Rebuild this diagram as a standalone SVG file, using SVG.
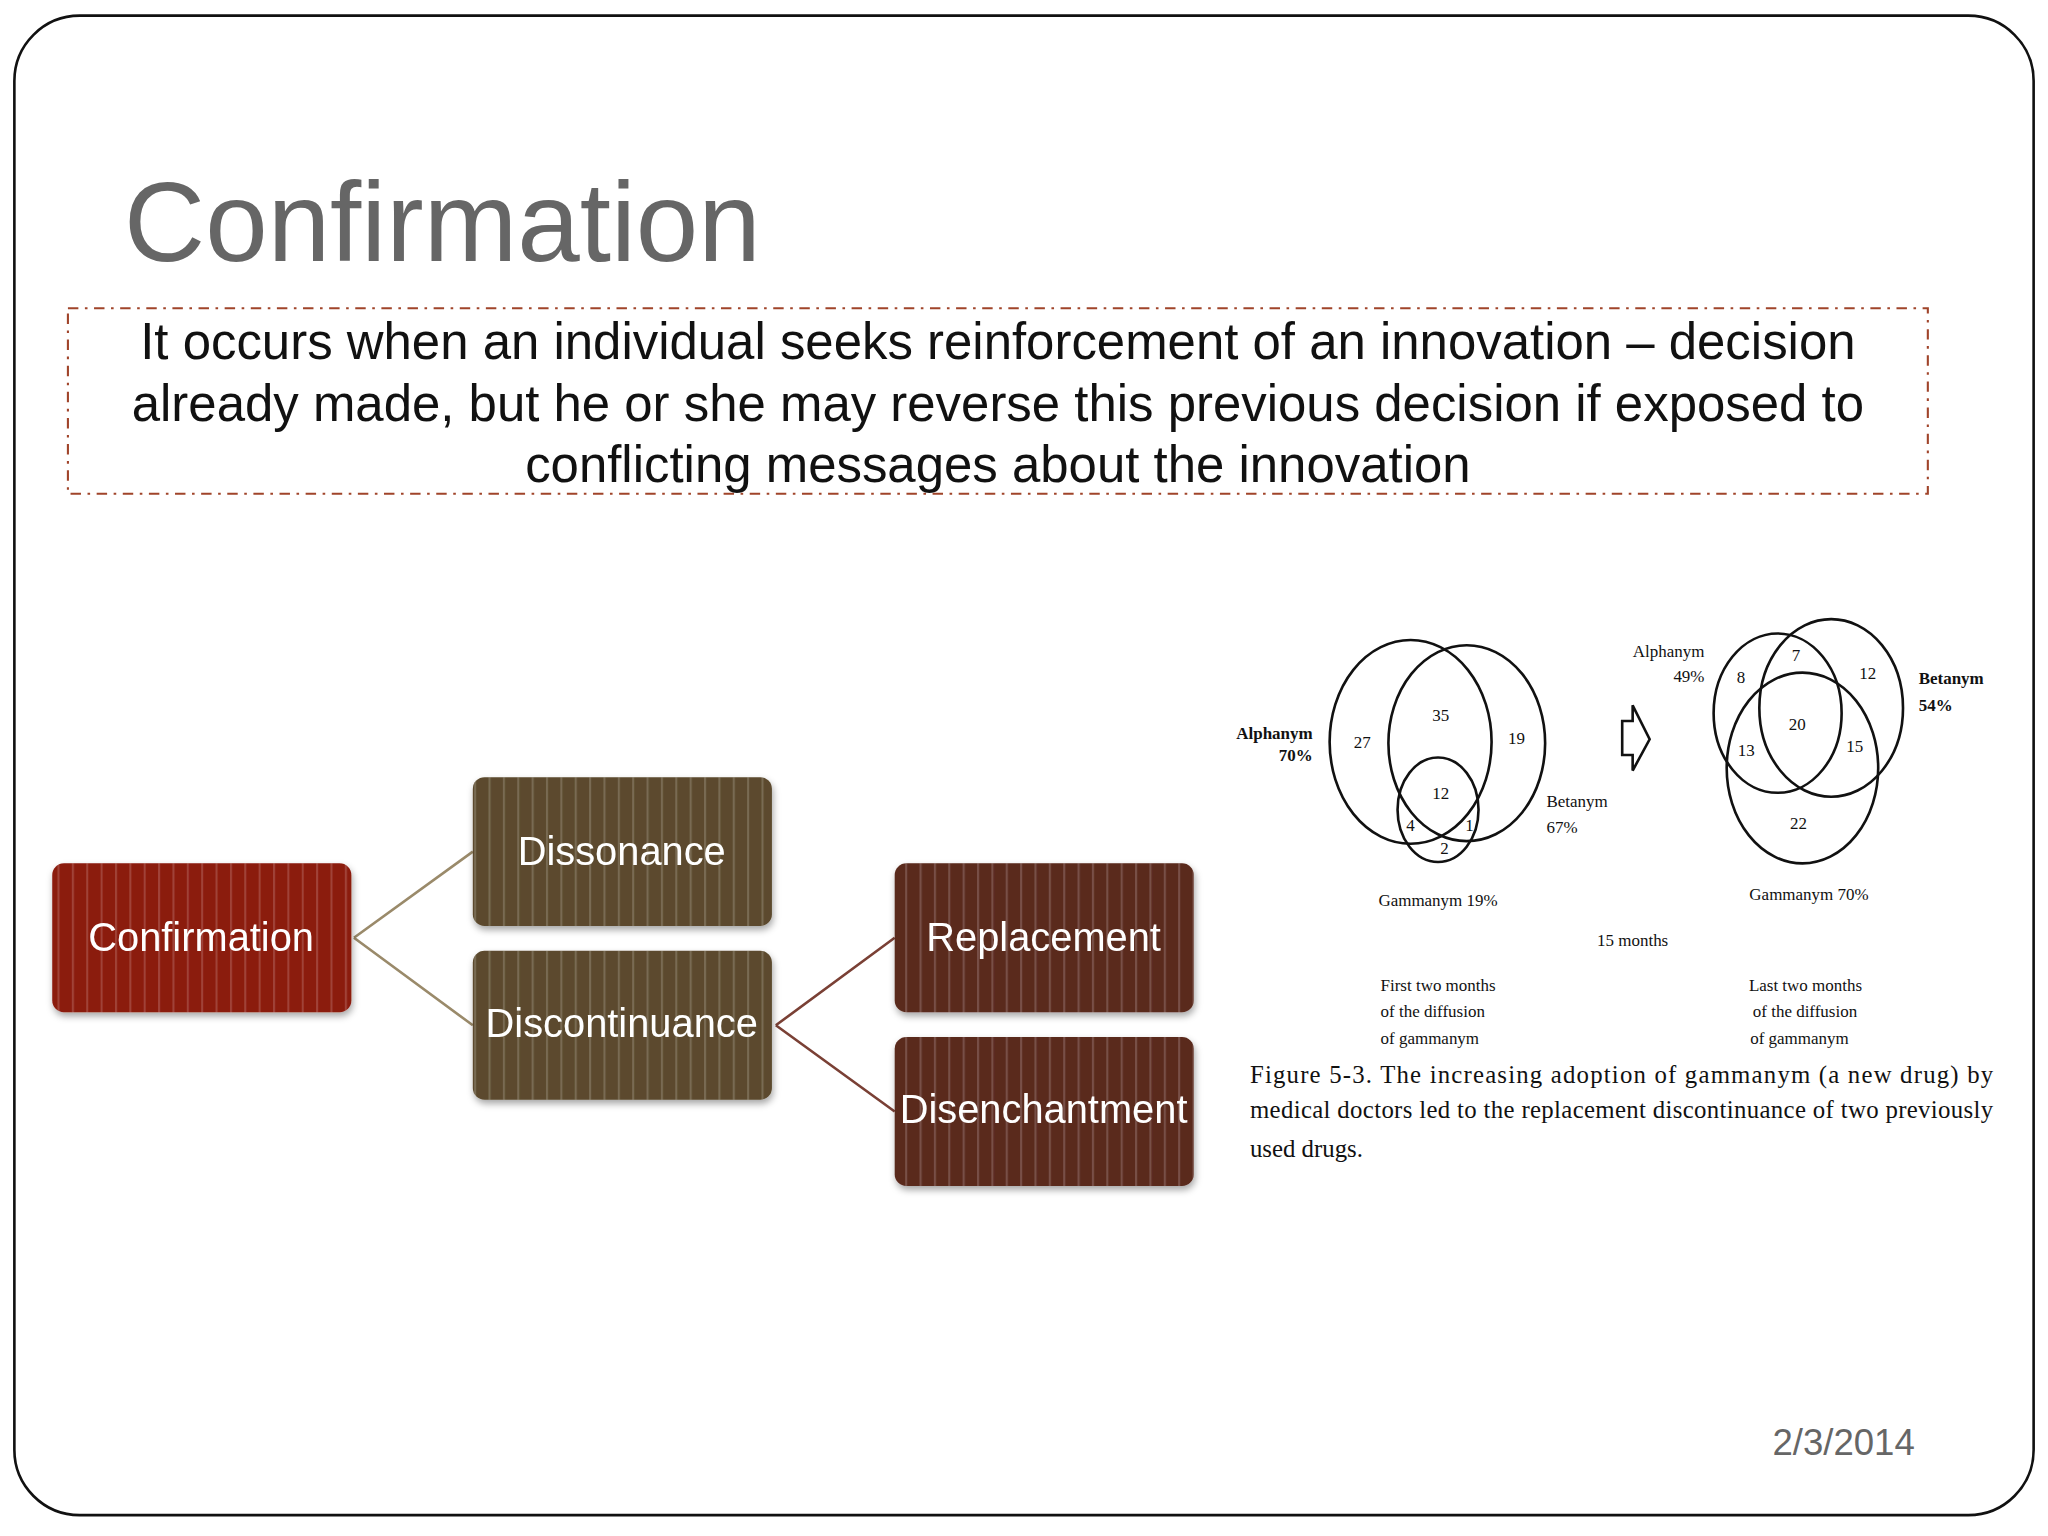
<svg xmlns="http://www.w3.org/2000/svg" width="2048" height="1536" viewBox="0 0 2048 1536">
<defs>
<pattern id="st" width="11" height="20" patternUnits="userSpaceOnUse"><rect x="0" y="0" width="1.6" height="20" fill="#fff" fill-opacity="0.18"/></pattern>
<filter id="sh" x="-10%" y="-10%" width="125%" height="130%"><feDropShadow dx="1" dy="3" stdDeviation="3" flood-opacity="0.35"/></filter>
<style>
.nt{font-family:"Liberation Sans",Arial,sans-serif;font-size:30.5px;fill:#fff;text-anchor:middle}
.ft{font-family:"Liberation Serif","Times New Roman",serif;fill:#111}
.v{fill:none;stroke:#111;stroke-width:2}
</style>
</defs>
<rect width="2048" height="1536" fill="#fff"/>
<g transform="scale(1.30612)">
<rect x="11" y="12" width="1546" height="1148" rx="50" fill="#fff" stroke="#111" stroke-width="2"/>
<text x="95" y="200" font-family="Liberation Sans,Arial,sans-serif" font-size="86" fill="#666">Confirmation</text>
<g id="def">
<rect x="52" y="236" width="1424" height="142" fill="none" stroke="#a0442a" stroke-width="1.6" stroke-dasharray="8,5,2,5"/>
<g font-family="Liberation Sans,Arial,sans-serif" font-size="39" fill="#111" text-anchor="middle">
<text x="764" y="275">It occurs when an individual seeks reinforcement of an innovation – decision</text>
<text x="764" y="322">already made, but he or she may reverse this previous decision if exposed to</text>
<text x="764" y="369">conflicting messages about the innovation</text>
</g></g>
<g id="connectors" fill="none" stroke-width="2">
<path d="M271 718 L362 652 M271 718 L362 785" stroke="#9a8a6a"/>
<path d="M594 785 L685 718 M594 785 L685 851" stroke="#7a4035"/>
</g>
<g id="n1" filter="url(#sh)"><rect x="40" y="661" width="229" height="114" rx="9" fill="#8b1a0c"/><rect x="40" y="661" width="229" height="114" rx="9" fill="url(#st)"/><text class="nt" x="154" y="728">Confirmation</text></g>
<g id="n2" filter="url(#sh)"><rect x="362" y="595" width="229" height="114" rx="9" fill="#5b4a2d"/><rect x="362" y="595" width="229" height="114" rx="9" fill="url(#st)"/><text class="nt" x="476" y="662">Dissonance</text></g>
<g id="n3" filter="url(#sh)"><rect x="362" y="728" width="229" height="114" rx="9" fill="#5b4a2d"/><rect x="362" y="728" width="229" height="114" rx="9" fill="url(#st)"/><text class="nt" x="476" y="794">Discontinuance</text></g>
<g id="n4" filter="url(#sh)"><rect x="685" y="661" width="229" height="114" rx="9" fill="#5a2a1e"/><rect x="685" y="661" width="229" height="114" rx="9" fill="url(#st)"/><text class="nt" x="799" y="728">Replacement</text></g>
<g id="n5" filter="url(#sh)"><rect x="685" y="794" width="229" height="114" rx="9" fill="#5a2a1e"/><rect x="685" y="794" width="229" height="114" rx="9" fill="url(#st)"/><text class="nt" x="799" y="860">Disenchantment</text></g>
<g id="figure">
<ellipse class="v" cx="1080" cy="568" rx="62" ry="78"/>
<ellipse class="v" cx="1123" cy="569" rx="60" ry="75"/>
<ellipse class="v" cx="1101" cy="620" rx="31" ry="40"/>
<g class="ft" font-size="13" font-weight="bold" text-anchor="end"><text x="1005" y="566">Alphanym</text><text x="1005" y="583">70%</text></g>
<g class="ft" font-size="13"><text x="1184" y="618">Betanym</text><text x="1184" y="638">67%</text></g>
<g class="ft" font-size="13" text-anchor="middle">
<text x="1043" y="573">27</text><text x="1103" y="552">35</text><text x="1161" y="570">19</text><text x="1103" y="612">12</text><text x="1080" y="636">4</text><text x="1125" y="636">1</text><text x="1106" y="654">2</text>
<text x="1101" y="694">Gammanym 19%</text>
<text x="1250" y="724">15 months</text>
<text x="1375" y="506">7</text><text x="1333" y="523">8</text><text x="1430" y="520">12</text><text x="1376" y="559">20</text><text x="1337" y="579">13</text><text x="1420" y="576">15</text><text x="1377" y="635">22</text>
<text x="1385" y="689">Gammanym 70%</text>
</g>
<path d="M1242 552 H1250 V540 L1263 566 L1250 590 V578 H1242 Z" fill="none" stroke="#111" stroke-width="2"/>
<ellipse class="v" cx="1361" cy="546" rx="49" ry="61"/>
<ellipse class="v" cx="1402" cy="542" rx="55" ry="68"/>
<ellipse class="v" cx="1380" cy="588" rx="58" ry="73"/>
<g class="ft" font-size="13" text-anchor="end"><text x="1305" y="503">Alphanym</text><text x="1305" y="522">49%</text></g>
<g class="ft" font-size="13" font-weight="bold"><text x="1469" y="524">Betanym</text><text x="1469" y="544">54%</text></g>
<g class="ft" font-size="13"><text x="1057" y="759">First two months</text><text x="1057" y="779">of the diffusion</text><text x="1057" y="799">of gammanym</text>
<text x="1339" y="759">Last two months</text><text x="1342" y="779">of the diffusion</text><text x="1340" y="799">of gammanym</text></g>
<g class="ft" font-size="19"><text x="957" y="829" textLength="569" lengthAdjust="spacing">Figure 5-3.  The increasing adoption of gammanym (a new drug) by</text>
<text x="957" y="856" textLength="569" lengthAdjust="spacing">medical doctors led to the replacement discontinuance of two previously</text>
<text x="957" y="886">used drugs.</text></g>
</g>
<text x="1466" y="1114" font-family="Liberation Sans,Arial,sans-serif" font-size="28" fill="#666" text-anchor="end">2/3/2014</text>
</g>
</svg>
